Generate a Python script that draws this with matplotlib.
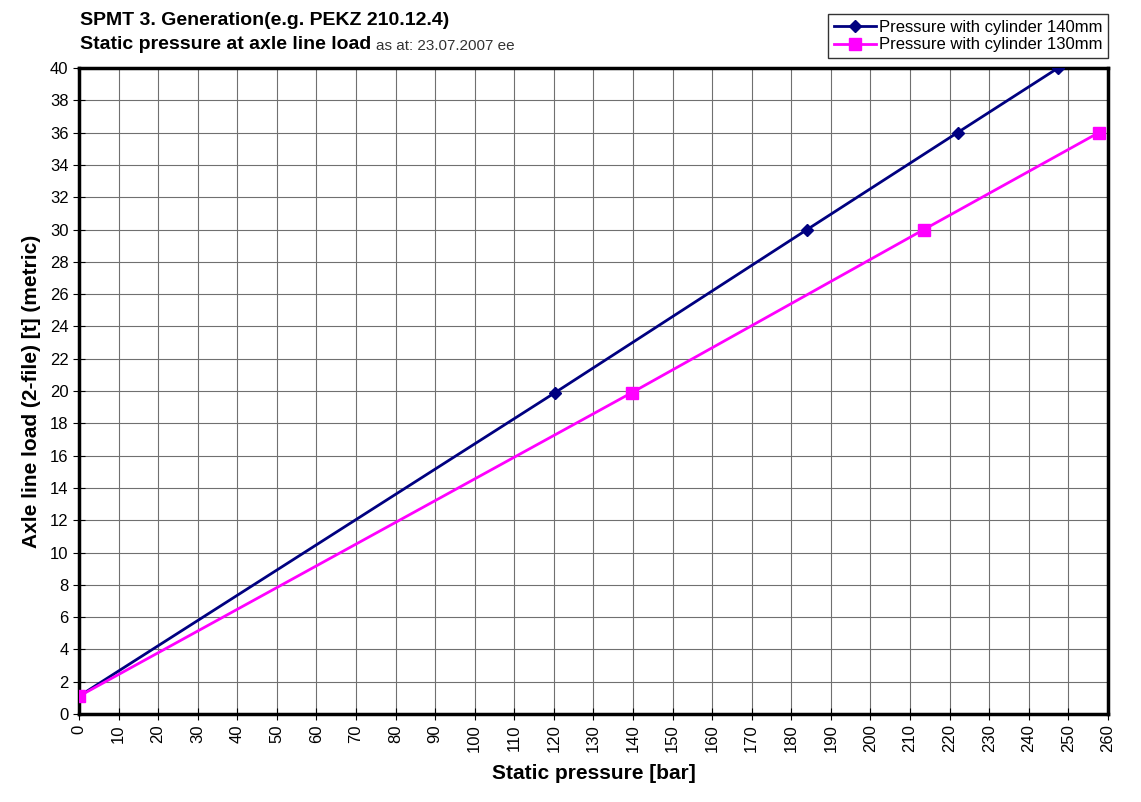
import matplotlib.pyplot as plt

plt.rcParams['font.family'] = ['Liberation Sans', 'DejaVu Sans']

# data
p140 = [0, 120.3, 184, 222, 247.4]
load140 = [1.1, 19.9, 30, 36, 40]
p130 = [0, 139.7, 213.5, 257.7]
load130 = [1.1, 19.9, 30, 36]

x_ticks = list(range(0, 261, 10))
y_ticks = list(range(0, 41, 2))

fig = plt.figure(figsize=(11.41, 8.02), dpi=100)
ax = fig.add_axes([0.0692, 0.1097, 0.9018, 0.8055])

ax.plot(p140, load140, color='#000080', marker='D', markersize=6, linewidth=2,
        label='Pressure with cylinder 140mm', zorder=3)
ax.plot(p130, load130, color='#FF00FF', marker='s', markersize=8, linewidth=2,
        label='Pressure with cylinder 130mm', zorder=3)

ax.set_xlim(0, 260)
ax.set_ylim(0, 40)
ax.set_xticks(x_ticks)
ax.set_yticks(y_ticks)
ax.tick_params(axis='x', labelrotation=90, labelsize=12, direction='inout', length=8)
ax.tick_params(axis='y', labelsize=12, direction='inout', length=8)
ax.grid(True, color='#707070', linewidth=0.8)
for s in ax.spines.values():
    s.set_linewidth(2.5)
    s.set_color('black')

ax.set_xlabel('Static pressure [bar]', fontsize=15, fontweight='bold', labelpad=8)
ax.set_ylabel('Axle line load (2-file) [t] (metric)', fontsize=15, fontweight='bold', labelpad=6)

fig.text(0.0701, 0.975, 'SPMT 3. Generation(e.g. PEKZ 210.12.4)', fontsize=14,
         fontweight='bold', va='center')
fig.text(0.0701, 0.944, 'Static pressure at axle line load', fontsize=14,
         fontweight='bold', va='center')
fig.text(0.3295, 0.943, 'as at: 23.07.2007 ee', fontsize=11, va='center', color='#333333')

leg = fig.legend(loc='upper right', bbox_to_anchor=(0.9715, 0.9825), borderaxespad=0,
                 fontsize=12, frameon=True, fancybox=False, edgecolor='black',
                 borderpad=0.35, handlelength=2.5, labelspacing=0.15, handletextpad=0.2)
leg.get_frame().set_linewidth(1)

fig.savefig('out.png', dpi=100)
